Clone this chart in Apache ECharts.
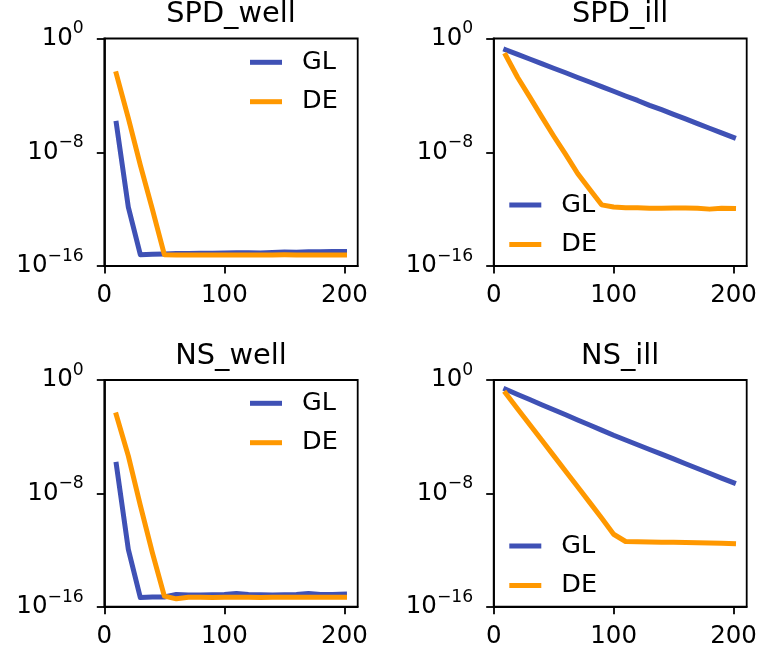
<!DOCTYPE html>
<html>
<head>
<meta charset="utf-8">
<script src="https://cdn.jsdelivr.net/npm/echarts@6/dist/echarts.min.js"></script>
<style>
  html, body { margin: 0; padding: 0; background: #fff; }
  #chart { width: 761px; height: 657px; }
</style>
</head>
<body>
<div id="chart"></div>
<script>
// Iteration counts shared by every panel
const iterations = [10, 20, 30, 40, 50, 60, 70, 80, 90, 100,
                    110, 120, 130, 140, 150, 160, 170, 180, 190, 200];

const panelTitles = ['SPD_well', 'SPD_ill', 'NS_well', 'NS_ill'];
const seriesNames = ['GL', 'DE'];
const xTicks = [0, 100, 200];
const yTicks = [1e-16, 1e-8, 1];

// Relative error per panel
const spdWellGL = [1.07e-6, 1.38e-12, 6.3e-16, 6.8e-16, 7.1e-16, 7.6e-16, 7.6e-16, 7.9e-16, 7.9e-16, 8.3e-16,
                   8.5e-16, 8.5e-16, 8.3e-16, 8.9e-16, 9.5e-16, 9.3e-16, 1.0e-15, 1.0e-15, 1.05e-15, 1.05e-15];
const spdWellDE = [3.3e-3, 2.5e-6, 1.26e-9, 1.0e-12, 6.3e-16, 6.0e-16, 6.0e-16, 5.9e-16, 6.0e-16, 6.0e-16,
                   6.0e-16, 5.9e-16, 6.0e-16, 6.0e-16, 6.1e-16, 6.0e-16, 6.0e-16, 5.9e-16, 6.0e-16, 6.0e-16];

const spdIllGL = [1.6e-1, 7.7e-2, 3.6e-2, 1.7e-2, 8.1e-3, 3.9e-3, 1.8e-3, 8.7e-4, 4.1e-4, 1.95e-4,
                  9.1e-5, 4.4e-5, 2.0e-5, 9.8e-6, 4.6e-6, 2.2e-6, 1.02e-6, 4.9e-7, 2.3e-7, 1.1e-7];
const spdIllDE = [6.6e-2, 1.8e-3, 7.9e-5, 3.2e-6, 1.4e-7, 7.1e-9, 3.2e-10, 2.5e-11, 2.0e-12, 1.4e-12,
                  1.26e-12, 1.26e-12, 1.17e-12, 1.17e-12, 1.2e-12, 1.2e-12, 1.15e-12, 1.0e-12, 1.17e-12, 1.1e-12];

const nsWellGL = [1.1e-6, 1.1e-12, 4.4e-16, 4.8e-16, 4.8e-16, 7.4e-16, 6.6e-16, 6.8e-16, 7.0e-16, 7.4e-16,
                  8.7e-16, 7.4e-16, 7.0e-16, 6.6e-16, 7.0e-16, 7.4e-16, 8.7e-16, 7.2e-16, 7.4e-16, 7.8e-16];
const nsWellDE = [3.4e-3, 4.4e-6, 1.4e-9, 6.5e-13, 5.6e-16, 3.6e-16, 4.6e-16, 4.6e-16, 4.5e-16, 4.6e-16,
                  4.7e-16, 4.6e-16, 4.5e-16, 4.6e-16, 4.7e-16, 4.6e-16, 4.6e-16, 4.7e-16, 4.6e-16, 4.6e-16];

const nsIllGL = [2.2e-1, 9.5e-2, 4.2e-2, 1.8e-2, 7.9e-3, 3.5e-3, 1.5e-3, 6.6e-4, 2.9e-4, 1.26e-4,
                 5.8e-5, 2.7e-5, 1.24e-5, 5.8e-6, 2.7e-6, 1.23e-6, 5.7e-7, 2.6e-7, 1.2e-7, 5.6e-8];
const nsIllDE = [1.15e-1, 9.1e-3, 7.2e-4, 5.8e-5, 4.6e-6, 3.6e-7, 2.9e-8, 2.3e-9, 1.8e-10, 1.3e-11,
                 4.0e-12, 3.8e-12, 3.7e-12, 3.6e-12, 3.5e-12, 3.4e-12, 3.2e-12, 3.1e-12, 3.0e-12, 2.8e-12];

const panelData = [
  [spdWellGL, spdWellDE],
  [spdIllGL, spdIllDE],
  [nsWellGL, nsWellDE],
  [nsIllGL, nsIllDE]
];

const colors = ['#3F51B5', '#FF9800'];
const FONT = 'DejaVu Sans';
const SPINE = 1.8;

// Panel frames (px)
const grids = [
  { left: 104.3, top: 38.5, width: 253.4, height: 227.5 },
  { left: 493.7, top: 38.5, width: 253.0, height: 227.5 },
  { left: 104.3, top: 380,  width: 253.4, height: 226.7 },
  { left: 493.7, top: 380,  width: 253.0, height: 226.7 }
];
// Legend anchor per panel: upper right for well-conditioned, lower left for ill
const legendPos = [
  { left: 250,   top: 47.3 },
  { left: 509.3, top: 190 },
  { left: 250,   top: 388.3 },
  { left: 509.3, top: 531 }
];
const titleY = [14.7, 14.7, 356.4, 356.4];

function expLabel(v) {
  const e = Math.round(Math.log10(v));
  const s = e < 0 ? '\u2212' + (-e) : String(e);
  return '{b|10}{s|' + s + '}';
}

const option = {
  animation: false,
  backgroundColor: '#fff',
  grid: grids.map(g => Object.assign({
    show: true, borderColor: '#000', borderWidth: SPINE,
    backgroundColor: 'transparent', containLabel: false, outerBoundsMode: 'none'
  }, g)),
  xAxis: grids.map((g, i) => ({
    type: 'value', gridIndex: i, min: 0, max: 211,
    axisLine: { show: true, lineStyle: { color: '#000', width: SPINE } },
    axisTick: { show: true, length: 7.5, customValues: xTicks, lineStyle: { color: '#000', width: SPINE } },
    axisLabel: { show: true, customValues: xTicks, margin: 17.5, color: '#000',
                 fontFamily: FONT, fontSize: 24.5 },
    splitLine: { show: false }
  })),
  yAxis: grids.map((g, i) => ({
    type: 'log', logBase: 10, gridIndex: i, min: 1e-16, max: 1,
    axisLine: { show: true, lineStyle: { color: '#000', width: SPINE } },
    axisTick: { show: true, length: 7.5, customValues: yTicks, lineStyle: { color: '#000', width: SPINE } },
    minorTick: { show: false },
    axisLabel: {
      show: true, customValues: yTicks, margin: 20.5, align: 'right',
      formatter: expLabel,
      rich: {
        b: { fontFamily: FONT, fontSize: 24.5, lineHeight: 25, color: '#000' },
        s: { fontFamily: FONT, fontSize: 17.2, lineHeight: 17, color: '#000', padding: [0, 0, 19, 0] }
      }
    },
    splitLine: { show: false }
  })),
  legend: legendPos.map(p => ({
    left: p.left, top: p.top, orient: 'vertical', padding: 0,
    itemGap: 9.4, itemWidth: 32, itemHeight: 5, icon: 'rect',
    selectedMode: false,
    data: seriesNames,
    textStyle: { fontFamily: FONT, fontSize: 25.5, color: '#000', lineHeight: 30, padding: [0, 0, 0, 15] }
  })),
  graphic: panelTitles.map((t, i) => ({
    type: 'text',
    x: grids[i].left + grids[i].width / 2,
    y: titleY[i],
    style: { text: t, font: '28.8px "DejaVu Sans"', fill: '#000', align: 'center', verticalAlign: 'middle' }
  })),
  series: []
};

panelData.forEach((pair, i) => {
  pair.forEach((vals, k) => {
    option.series.push({
      name: seriesNames[k], type: 'line', xAxisIndex: i, yAxisIndex: i,
      data: iterations.map((x, j) => [x, vals[j]]),
      symbol: 'none', showSymbol: false, clip: true,
      color: colors[k],
      lineStyle: { color: colors[k], width: 5, cap: 'square', join: 'round' }
    });
  });
});

const chart = echarts.init(document.getElementById('chart'), null, { renderer: 'canvas' });
chart.setOption(option);
</script>
</body>
</html>
